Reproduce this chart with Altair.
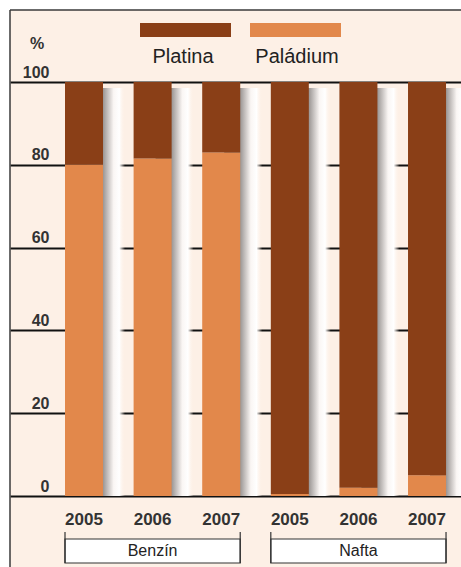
import altair as alt
import pandas as pd

# Share of platinum vs palladium in catalytic converters, by fuel type and year
groups = ["Benzín", "Benzín", "Benzín", "Nafta", "Nafta", "Nafta"]
years = ["2005", "2006", "2007", "2005", "2006", "2007"]
paladium = [80, 81.5, 83, 0.5, 2, 5]
platina = [20, 18.5, 17, 99.5, 98, 95]
series = ["Platina", "Paládium"]
colors = ["#8a3f17", "#e2884b"]
y_ticks = [0, 20, 40, 60, 80, 100]

W, H = 451, 414
BG = "#fdf0e6"
INK = "#333333"
FRAME = "#3a3a3a"

keys = [f"{g} {y}" for g, y in zip(groups, years)]
rows = []
for k, g, yr, pa, pt in zip(keys, groups, years, paladium, platina):
    rows.append({"key": k, "group": g, "year": yr, "series": "Paládium", "value": pa, "order": 0})
    rows.append({"key": k, "group": g, "year": yr, "series": "Platina", "value": pt, "order": 1})
df = pd.DataFrame(rows)

group_names = list(dict.fromkeys(groups))
gdf = pd.DataFrame({
    "group": group_names,
    "first": [keys[groups.index(g)] for g in group_names],
    "mid": [keys[groups.index(g) + 1] for g in group_names],
    "last": [keys[len(groups) - 1 - groups[::-1].index(g)] for g in group_names],
})

xscale = alt.Scale(domain=keys, paddingInner=0.446, paddingOuter=0.51, align=0.786, round=False)
yscale = alt.Scale(domain=[0, 100], nice=False)

one = pd.DataFrame({"a": [0]})

# white margin outside the framed cream panel, and the frame itself
margin_top = alt.Chart(one).mark_rect(fill="white").encode(
    x=alt.value(-10), x2=alt.value(W + 10), y=alt.value(-82), y2=alt.value(-72))
margin_left = alt.Chart(one).mark_rect(fill="white").encode(
    x=alt.value(-10), x2=alt.value(0), y=alt.value(-82), y2=alt.value(H + 80))
frame_top = alt.Chart(one).mark_rule(color=FRAME, strokeWidth=1.5).encode(
    x=alt.value(0), x2=alt.value(W + 10), y=alt.value(-72))
frame_left = alt.Chart(one).mark_rule(color=FRAME, strokeWidth=1.5).encode(
    x=alt.value(0), y=alt.value(-72), y2=alt.value(H + 80))

# grid lines, y labels and year labels
axis_layer = alt.Chart(df).mark_bar(opacity=0).encode(
    x=alt.X("key:N", scale=xscale, sort=keys,
            axis=alt.Axis(title=None, domain=False, ticks=False, tickSize=0,
                          labelExpr="split(datum.label, ' ')[1]",
                          labelFont="Liberation Sans", labelFontWeight="bold",
                          labelFontSize=17, labelColor=INK, labelPadding=15,
                          labelAngle=0)),
    y=alt.Y("sum(value):Q", scale=yscale,
            axis=alt.Axis(title=None, values=y_ticks, domain=False, ticks=False, tickSize=0,
                          grid=True, gridColor="#111111", gridWidth=2,
                          labelAlign="right", labelBaseline="alphabetic",
                          labelPadding=-39, labelOffset=-5,
                          labelFont="Liberation Sans", labelFontWeight="bold",
                          labelFontSize=16, labelColor=INK)),
)

# soft grey shadow to the right of each bar, fading into a pale band
shadow_fill = alt.LinearGradient(
    gradient="linear", x1=0, x2=1, y1=0, y2=0,
    stops=[alt.GradientStop(color="#8f8b89", offset=0),
           alt.GradientStop(color="#9a9593", offset=0.42),
           alt.GradientStop(color="#faf6f4", offset=0.7),
           alt.GradientStop(color="#ffffff", offset=0.85),
           alt.GradientStop(color="rgba(253,240,230,0)", offset=1)],
)
shadows = alt.Chart(df).mark_bar(color=shadow_fill, xOffset=22, yOffset=6).encode(
    x=alt.X("key:N", scale=xscale, sort=keys),
    y=alt.Y("sum(value):Q", scale=yscale),
)

bars = alt.Chart(df).mark_bar().encode(
    x=alt.X("key:N", scale=xscale, sort=keys),
    y=alt.Y("value:Q", stack="zero", scale=yscale),
    color=alt.Color("series:N", scale=alt.Scale(domain=series, range=colors), legend=None),
    order=alt.Order("order:Q"),
)

pct = alt.Chart(one).mark_text(text="%", font="Liberation Sans", fontWeight="bold",
                               fontSize=16, color=INK).encode(x=alt.value(27), y=alt.value(-38))

# legend swatches with labels underneath
legend_layers = []
for i, (name, col) in enumerate(zip(series, colors)):
    x0 = 130 + i * 110
    legend_layers.append(alt.Chart(one).mark_rect(color=col).encode(
        x=alt.value(x0), x2=alt.value(x0 + 91), y=alt.value(-59), y2=alt.value(-45)))
    legend_layers.append(alt.Chart(one).mark_text(
        text=name, font="Liberation Sans", fontSize=20, color="#222222").encode(
        x=alt.value(x0 + 45 + (2 if i else -2)), y=alt.value(-25)))

# bracketed group boxes under the year labels
box = alt.Chart(gdf).mark_rect(fill="white", stroke=INK, strokeWidth=1.2).encode(
    x=alt.X("first:N", scale=xscale, bandPosition=0),
    x2=alt.X2("last", bandPosition=1),
    y=alt.value(457), y2=alt.value(481),
)
tick_l = alt.Chart(gdf).mark_rule(color=INK, strokeWidth=1.2).encode(
    x=alt.X("first:N", scale=xscale, bandPosition=0), y=alt.value(450), y2=alt.value(481))
tick_r = alt.Chart(gdf).mark_rule(color=INK, strokeWidth=1.2).encode(
    x=alt.X("last:N", scale=xscale, bandPosition=1), y=alt.value(450), y2=alt.value(481))
glabel = alt.Chart(gdf).mark_text(font="Liberation Sans", fontSize=16, color="#222222").encode(
    x=alt.X("mid:N", scale=xscale, bandPosition=0.5), y=alt.value(469), text="group:N")

chart = alt.layer(
    axis_layer, margin_top, margin_left, frame_top, frame_left, shadows, bars, pct,
    *legend_layers, box, tick_l, tick_r, glabel
).properties(
    width=W, height=H, background=BG,
    padding={"left": 10, "top": 82, "right": 0, "bottom": 71},
    autosize=alt.AutoSizeParams(type="none"),
).configure_view(stroke=None)

chart.save("out.html", embed_options={"renderer": "svg", "actions": False})
